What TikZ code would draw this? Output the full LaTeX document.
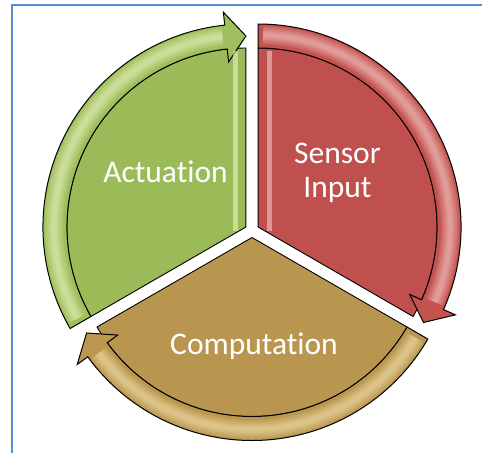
\documentclass[tikz,border=0pt]{standalone}
\usepackage{fontspec}
\setmainfont{Carlito}[Ligatures={NoCommon}]
\usepackage{xcolor}
\usetikzlibrary{calc}
\definecolor{pageblue}{HTML}{5B8BD2}
\definecolor{sensred}{HTML}{C0504D}
\definecolor{sensband}{HTML}{C4534F}
\definecolor{sensglow}{HTML}{F8D4D2}
\definecolor{actgreen}{HTML}{9BBB59}
\definecolor{actband}{HTML}{9FBE5C}
\definecolor{actglow}{HTML}{F0F8C8}
\definecolor{compbrown}{HTML}{B9964F}
\definecolor{compband}{HTML}{BB9850}
\definecolor{compglow}{HTML}{F7E8B4}
\tikzstyle{pageframe} = [pageblue,line width=2pt]
\tikzstyle{wedge} = [draw=black,line width=0.9pt,line join=round]
\tikzstyle{band} = [draw=black,line width=1pt,line join=miter]
\tikzstyle{gloss} = [opacity=0.16,line cap=butt]
\tikzstyle{bevel} = [line width=5pt,opacity=0.55]
\tikzstyle{seglabel} = [text=white,font=\fontsize{31.5}{34}\selectfont,align=center,inner sep=0pt]

\begin{document}
\begin{tikzpicture}[x=1pt,y=1pt]
  \useasboundingbox (0,0) rectangle (482,-453);
  \draw[pageframe] (11.7,-453) -- (11.7,-5) -- (482,-5);
  % one exploded slice per step: wedge, then its arrow band
  \foreach \s/\fc/\bc/\hc in {90/sensred/sensband/sensglow,
      210/actgreen/actband/actglow, 330/compbrown/compband/compglow}
  {
    \coordinate (c\s) at ($(252,-230.5)+(\s-60:7)$);
    \filldraw[wedge,fill=\fc] (c\s) -- ($(c\s)+(\s:179)$)
      arc[start angle=\s,end angle=\s-120,radius=179] -- cycle;
    \filldraw[band,fill=\bc] ($(c\s)+(\s:179)$)
      arc[start angle=\s,end angle=\s-114,radius=179]
      -- ($(c\s)+(\s-114:166)$) -- ($(c\s)+(\s-120:191)$)
      -- ($(c\s)+(\s-114:216)$) -- ($(c\s)+(\s-114:203)$)
      arc[start angle=\s-114,end angle=\s,radius=203] -- cycle;
    \foreach \w in {18,14,10,7,4}
      \draw[gloss,\hc,line width=\w pt] ($(c\s)+(\s-1.5:192)$)
        arc[start angle=\s-1.5,end angle=\s-113,radius=192];
  }
  \draw[bevel,actglow] ($(c210)+(-10,-4)$) -- ($(c210)+(-10,176)$);
  \draw[bevel,sensglow] ($(c90)+(11,-4)$) -- ($(c90)+(11,176)$);

  \node[seglabel,anchor=base] (act) at (165.5,-182) {Actuation};
  \node[seglabel] (sens) at (337.5,-173) {Sensor\\Input};
  \node[seglabel,anchor=base] (comp) at (254,-354) {Computation};
\end{tikzpicture}
\end{document}
